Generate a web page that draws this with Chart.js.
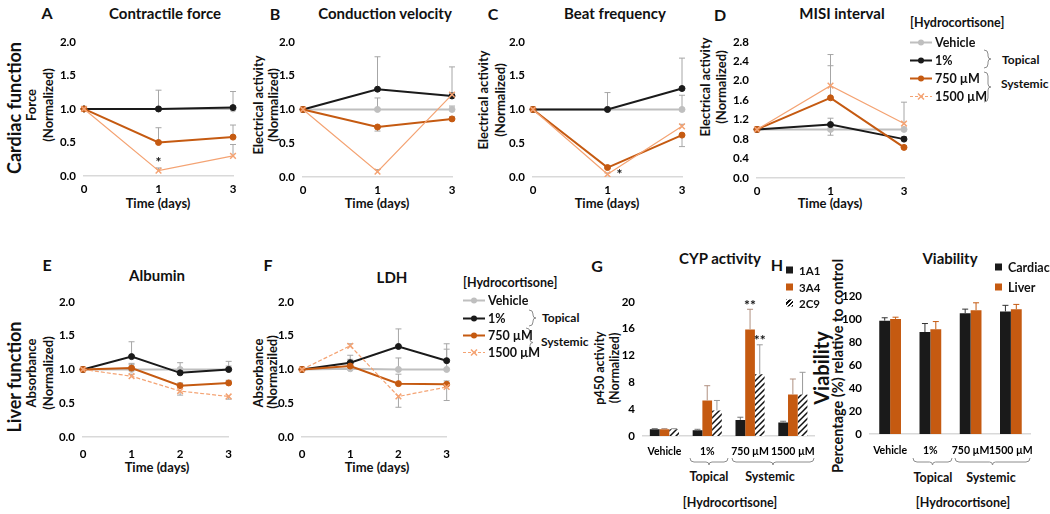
<!DOCTYPE html>
<html>
<head>
<meta charset="utf-8">
<script src="https://cdn.jsdelivr.net/npm/chart.js@4.4.0/dist/chart.umd.min.js"></script>
<style>
  body { margin: 0; background: #fff; }
  #fig { position: relative; width: 1050px; height: 514px; overflow: hidden;
         font-family: Lato, "Open Sans", sans-serif; font-weight: 700; color: #111; }
  #fig canvas { position: absolute; }
  .t { position: absolute; white-space: nowrap; line-height: 1; transform: translate(-50%, -50%); }
  .r { transform: translate(-50%, -50%) rotate(-90deg); }
  .l { transform: translate(0, -50%); }
  .pl { font-size: 16px; }
  .ttl { font-size: 15px; }
  .ax { font-size: 13px; }
  .big { font-size: 18px; }
  .lg { font-size: 12.5px; }
  .side { font-size: 12px; }
  .row { position: absolute; display: flex; align-items: center; gap: 3px; font-size: 12.5px; transform: translate(0, -50%); white-space: nowrap; }
  .sq { display: inline-block; width: 7px; height: 7px; margin-right: 3px; }
  #deco { position: absolute; left: 0; top: 0; }
</style>
</head>
<body>
<div id="fig">
  <!-- top row -->
  <div class="t pl" style="left:47px;top:13px">A</div>
  <div class="t ttl" style="left:165px;top:13px">Contractile force</div>
  <div class="t r big" style="left:14px;top:108px">Cardiac function</div>
  <div class="t r ax" style="left:31px;top:105px">Force</div>
  <div class="t r ax" style="left:48px;top:105px">(Normalized)</div>
  <div class="t ax" style="left:158px;top:203px">Time (days)</div>

  <div class="t pl" style="left:275px;top:14px">B</div>
  <div class="t ttl" style="left:385px;top:13px">Conduction velocity</div>
  <div class="t r ax" style="left:258px;top:105px">Electrical activity</div>
  <div class="t r ax" style="left:273px;top:105px">(Normalized)</div>
  <div class="t ax" style="left:377px;top:203px">Time (days)</div>

  <div class="t pl" style="left:493px;top:14px">C</div>
  <div class="t ttl" style="left:615px;top:13px">Beat frequency</div>
  <div class="t r ax" style="left:483px;top:100px">Electrical activity</div>
  <div class="t r ax" style="left:500px;top:100px">(Normalized)</div>
  <div class="t ax" style="left:607px;top:203px">Time (days)</div>

  <div class="t pl" style="left:720px;top:15px">D</div>
  <div class="t ttl" style="left:842px;top:13px">MISI interval</div>
  <div class="t r ax" style="left:705px;top:87px">Electrical activity</div>
  <div class="t r ax" style="left:721px;top:87px">(Normalized)</div>
  <div class="t ax" style="left:830px;top:203px">Time (days)</div>

  <div class="t l lg" style="left:910px;top:23px">[Hydrocortisone]</div>
  <div class="t l side" style="left:1002px;top:60px">Topical</div>
  <div class="t l side" style="left:1001px;top:84px">Systemic</div>

  <!-- bottom row -->
  <div class="t pl" style="left:47px;top:265px">E</div>
  <div class="t ttl" style="left:157px;top:275px">Albumin</div>
  <div class="t r big" style="left:14px;top:377px">Liver function</div>
  <div class="t r ax" style="left:31px;top:373px">Absorbance</div>
  <div class="t r ax" style="left:48px;top:373px">(Normalized)</div>
  <div class="t ax" style="left:157px;top:467px">Time (days)</div>

  <div class="t pl" style="left:268px;top:265px">F</div>
  <div class="t ttl" style="left:392px;top:277px">LDH</div>
  <div class="t r ax" style="left:258px;top:373px">Absorbance</div>
  <div class="t r ax" style="left:272px;top:372px">(Normaziled)</div>
  <div class="t ax" style="left:377px;top:467px">Time (days)</div>

  <div class="t l lg" style="left:463px;top:283px">[Hydrocortisone]</div>
  <div class="t l side" style="left:542px;top:318px">Topical</div>
  <div class="t l side" style="left:541px;top:342px">Systemic</div>

  <div class="t pl" style="left:597px;top:266px">G</div>
  <div class="t ttl" style="left:720px;top:258px">CYP activity</div>
  <div class="t r" style="left:600px;top:368px;font-size:12.5px">p450 activity</div>
  <div class="t r" style="left:615px;top:368px;font-size:12.5px">(Normalized)</div>
  <div class="t lg" style="left:709px;top:477px">Topical</div>
  <div class="t lg" style="left:770px;top:477px">Systemic</div>
  <div class="t lg" style="left:730px;top:503px">[Hydrocortisone]</div>

  <div class="t pl" style="left:777px;top:265px">H</div>
  <div class="t ttl" style="left:950px;top:258px">Viability</div>
  <div class="t r" style="left:821px;top:368px;font-size:20px">Viability</div>
  <div class="t r" style="left:838px;top:366px;font-size:14.5px">Percentage (%) relative to control</div>
  <div class="t lg" style="left:933px;top:478px">Topical</div>
  <div class="t lg" style="left:991px;top:478px">Systemic</div>
  <div class="t lg" style="left:963px;top:503px">[Hydrocortisone]</div>

  <svg id="deco" width="1050" height="514"></svg>
</div>

<script>
// ---- data ----
const SERIES = ["Vehicle", "1%", "750 µM", "1500 µM"];
const daysTop = ["0", "1", "3"];
const daysBottom = ["0", "1", "2", "3"];

// rows: Vehicle, 1%, 750 µM, 1500 µM  (err > 0 drawn up, < 0 drawn down)
const forceMean = [[1, 1, 1], [1, 1.0, 1.02], [1, 0.50, 0.58], [1, 0.08, 0.30]];
const forceErr  = [[0, 0, 0], [0, 0.28, 0.24], [0, 0.22, 0.18], [0, 0.04, 0.17]];

const condMean = [[1, 1, 1], [1, 1.30, 1.20], [1, 0.74, 0.86], [1, 0.08, 1.22]];
const condErr  = [[0, 0.17, 0.05], [0, 0.48, 0.43], [0, -0.06, 0.03], [0, 0.03, 0.03]];

const beatMean = [[1, 1, 1], [1, 1.0, 1.31], [1, 0.14, 0.62], [1, 0.04, 0.75]];
const beatErr  = [[0, 0, 0.21], [0, 0.25, 0.45], [0, 0.03, -0.17], [0, 0.02, 0.03]];

const misiMean = [[1, 1, 1], [1, 1.10, 0.80], [1, 1.65, 0.63], [1, 1.90, 1.12]];
const misiErr  = [[0, -0.12, 0], [0, 0.13, 0.05], [0, 0.66, 0.03], [0, 0.64, 0.44]];

const albMean = [[1, 1, 1, 1], [1, 1.19, 0.95, 1.0], [1, 1.02, 0.76, 0.80], [1, 0.90, 0.68, 0.60]];
const albErr  = [[0, 0.09, 0.10, 0.12], [0, 0.22, 0.05, 0.05], [0, 0.05, 0.04, 0.04], [0, 0.03, -0.06, -0.04]];

const ldhMean = [[1, 1.01, 1, 1], [1, 1.10, 1.34, 1.13], [1, 1.05, 0.79, 0.78], [1, 1.35, 0.60, 0.74]];
const ldhErr  = [[0, 0.20, 0.17, 0.30], [0, 0.05, 0.26, 0.25], [0, 0.05, 0.14, 0.05], [0, 0.03, -0.16, -0.20]];

const doseLabels = ["Vehicle", "1%", "750 µM", "1500 µM"];
const cyp1A1 = [1.0, 0.85, 2.4, 2.0];
const cyp3A4 = [1.0, 5.3, 15.9, 6.2];
const cyp2C9 = [1.0, 3.8, 9.2, 6.2];
const cyp1A1Err = [0.1, 0.15, 0.4, 0.2];
const cyp3A4Err = [0.1, 2.2, 3.0, 2.3];
const cyp2C9Err = [0.1, 1.5, 4.4, 3.3];

const viaCardiac = [98.5, 88.6, 105, 106.5];
const viaLiver   = [100, 91, 107.6, 108.4];
const viaCardiacErr = [2.5, 7.4, 3.5, 5.3];
const viaLiverErr   = [1.5, 6.7, 6.4, 4.2];

// ---- style ----
const GREY = "#bfbfbf", BLACK = "#1a1a1a", ORANGE = "#c55a11", LIGHT = "#f4a373";
const COLORS = [GREY, BLACK, ORANGE, LIGHT];
const TICK_FONT = { family: "Lato", size: 11.5, weight: "bold" };
const BAR_TICK_FONT = { family: "Lato", size: 10.5, weight: "bold" };
const fig = document.getElementById("fig");

const errorPlugin = {
  id: "errs",
  beforeDatasetsDraw(chart) { if (chart.config.type === "line") drawErrors(chart); },
  afterDatasetsDraw(chart) { if (chart.config.type === "bar") drawErrors(chart); },
};
function drawErrors(chart) {
  const ctx = chart.ctx, y = chart.scales.y;
  chart.data.datasets.forEach((ds, di) => {
    if (!ds.err) return;
    const meta = chart.getDatasetMeta(di);
    ctx.save();
    ctx.strokeStyle = ds.errColor || "#a6a6a6";
    ctx.lineWidth = 1;
    ds.err.forEach((e, i) => {
      const p = meta.data[i];
      if (!e || !p) return;
      const y0 = y.getPixelForValue(ds.data[i]), y1 = y.getPixelForValue(ds.data[i] + e);
      ctx.beginPath();
      ctx.moveTo(p.x, y0); ctx.lineTo(p.x, y1);
      ctx.moveTo(p.x - 3, y1); ctx.lineTo(p.x + 3, y1);
      ctx.stroke();
    });
    ctx.restore();
  });
}

// significance marks, placed at a data value above a point
const starPlugin = {
  id: "stars",
  afterDatasetsDraw(chart) {
    const ctx = chart.ctx, y = chart.scales.y;
    chart.data.datasets.forEach((ds, di) => {
      (ds.stars || []).forEach((s) => {
        const p = chart.getDatasetMeta(di).data[s.i];
        ctx.save();
        ctx.fillStyle = "#111";
        ctx.font = "bold 14px Lato";
        ctx.textAlign = "center";
        ctx.textBaseline = "middle";
        ctx.fillText(s.text, p.x + (s.dx || 0), y.getPixelForValue(s.v));
        ctx.restore();
      });
    });
  },
};

function hatch() {
  const c = document.createElement("canvas");
  c.width = 6; c.height = 6;
  const g = c.getContext("2d");
  g.fillStyle = "#fff"; g.fillRect(0, 0, 6, 6);
  g.strokeStyle = "#111"; g.lineWidth = 1.5;
  g.beginPath();
  g.moveTo(0, 6); g.lineTo(6, 0);
  g.moveTo(-3, 3); g.lineTo(3, -3);
  g.moveTo(3, 9); g.lineTo(9, 3);
  g.stroke();
  return g.createPattern(c, "repeat");
}

function lineSets(means, errs, dashed) {
  return means.map((m, k) => ({
    label: SERIES[k], data: m, err: errs[k],
    borderColor: COLORS[k], backgroundColor: COLORS[k],
    pointBackgroundColor: COLORS[k], pointBorderColor: COLORS[k],
    borderWidth: k === 3 ? 1.2 : 2,
    borderDash: k === 3 && dashed ? [4, 2] : [],
    pointStyle: k === 3 ? "crossRot" : "circle",
    pointRadius: k === 3 ? 4 : 3, pointBorderWidth: k === 3 ? 1.5 : 1,
    order: 4 - k, tension: 0,
  }));
}

// box = [left, right, top, bottom] of the plot area
function makeChart(box, type, labels, datasets, yOpt, xPad, xFont) {
  const [L, R, T, B] = box;
  const YW = 40, PT = 8, PR = 10, XH = 26;
  const w = R + PR - (L - YW), h = B + XH - (T - PT);
  const cv = document.createElement("canvas");
  cv.width = w; cv.height = h;
  cv.style.left = (L - YW) + "px"; cv.style.top = (T - PT) + "px";
  cv.style.width = w + "px"; cv.style.height = h + "px";
  fig.insertBefore(cv, document.getElementById("deco"));
  return new Chart(cv, {
    type,
    data: { labels, datasets },
    options: {
      responsive: false, animation: false, devicePixelRatio: 1,
      layout: { padding: { top: PT, right: PR, left: 0, bottom: 0 } },
      plugins: { legend: { display: false }, tooltip: { enabled: false } },
      scales: {
        x: {
          offset: type === "bar",
          grid: { display: false, drawTicks: false },
          border: { color: "#d9d9d9", width: 1.5 },
          ticks: { color: "#000", font: xFont || TICK_FONT, padding: xPad, autoSkip: false, maxRotation: 0 },
          afterFit: (s) => { s.height = XH; },
        },
        y: {
          min: 0, max: yOpt.max,
          grid: { display: false, drawTicks: false },
          border: { display: false },
          ticks: { stepSize: yOpt.step, color: "#000", font: TICK_FONT, padding: 8, callback: yOpt.fmt },
          afterFit: (s) => { s.width = YW; },
        },
      },
    },
    plugins: [errorPlugin, starPlugin],
  });
}

const f1 = (v) => v.toFixed(1);
const f0 = (v) => String(Math.round(v));
const y2 = { max: 2, step: 0.5, fmt: f1 };

// A
const setsA = lineSets(forceMean, forceErr, false);
setsA[3].stars = [{ i: 1, v: 0.2, text: "*" }];
makeChart([84, 233, 35, 176], "line", daysTop, setsA, y2, 6);
// B
makeChart([303, 452, 35, 177], "line", daysTop, lineSets(condMean, condErr, false), y2, 6);
// C
const setsC = lineSets(beatMean, beatErr, false);
setsC[3].stars = [{ i: 1, v: 0.03, text: "*", dx: 12 }];
makeChart([533, 682, 35, 177], "line", daysTop, setsC, y2, 6);
// D
makeChart([757, 904, 35, 178], "line", daysTop, lineSets(misiMean, misiErr, false), { max: 2.8, step: 0.4, fmt: f1 }, 6);
// E
makeChart([83, 232, 295, 437], "line", daysBottom, lineSets(albMean, albErr, true), y2, 10);
// F
makeChart([302, 450, 295, 437], "line", daysBottom, lineSets(ldhMean, ldhErr, true), y2, 10);

// G
makeChart([643, 815, 295, 436], "bar", doseLabels, [
  { label: "1A1", data: cyp1A1, err: cyp1A1Err, errColor: "#777", backgroundColor: BLACK },
  { label: "3A4", data: cyp3A4, err: cyp3A4Err, errColor: "#b09080", backgroundColor: ORANGE,
    stars: [{ i: 2, v: 19.4, text: "**" }] },
  { label: "2C9", data: cyp2C9, err: cyp2C9Err, errColor: "#999", backgroundColor: hatch(),
    stars: [{ i: 2, v: 14.2, text: "**" }] },
].map((d) => Object.assign(d, { categoryPercentage: 0.68, barPercentage: 1 })),
{ max: 20, step: 4, fmt: f0 }, 9, BAR_TICK_FONT);

// H
makeChart([870, 1034, 289, 434], "bar", doseLabels, [
  { label: "Cardiac", data: viaCardiac, err: viaCardiacErr, errColor: "#333", backgroundColor: BLACK },
  { label: "Liver", data: viaLiver, err: viaLiverErr, errColor: ORANGE, backgroundColor: ORANGE },
].map((d) => Object.assign(d, { categoryPercentage: 0.54, barPercentage: 1 })),
{ max: 120, step: 20, fmt: f0 }, 10, BAR_TICK_FONT);

// ---- legends ----
function glyph(k, dashed) {
  const c = COLORS[k];
  const dash = k === 3 && dashed ? ' stroke-dasharray="3 2"' : "";
  const mark = k === 3
    ? `<path d="M8 2 L14 8 M14 2 L8 8" stroke="${c}" stroke-width="1.5"/>`
    : `<circle cx="11" cy="5" r="3" fill="${c}"/>`;
  return `<svg width="22" height="10"><line x1="0" y1="5" x2="22" y2="5" stroke="${c}" stroke-width="${k === 3 ? 1.2 : 2}"${dash}/>${mark}</svg>`;
}
function lineLegend(left, ys, dashed) {
  SERIES.forEach((s, k) => {
    const d = document.createElement("div");
    d.className = "row";
    d.style.left = left + "px"; d.style.top = ys[k] + "px";
    d.innerHTML = glyph(k, dashed) + "<span>" + s + "</span>";
    fig.appendChild(d);
  });
}
lineLegend(910, [42, 60, 78, 96], true);
lineLegend(463, [300, 318, 335, 352], true);

function barLegend(left, ys, items, size) {
  items.forEach((it, k) => {
    const d = document.createElement("div");
    d.className = "row";
    d.style.left = left + "px"; d.style.top = ys[k] + "px";
    d.style.fontSize = size + "px";
    d.innerHTML = `<span class="sq" style="background:${it[1]};${it[2] || ""}"></span><span>${it[0]}</span>`;
    fig.appendChild(d);
  });
}
barLegend(786, [270, 287, 303], [["1A1", BLACK], ["3A4", ORANGE],
  ["2C9", "#fff", "background-image:repeating-linear-gradient(-45deg,#111 0 1.5px,#fff 1.5px 3px)"]], 11.5);
barLegend(995, [267, 287], [["Cardiac", BLACK], ["Liver", ORANGE]], 12.5);

// ---- braces ----
const deco = document.getElementById("deco");
function path(d) {
  const p = document.createElementNS("http://www.w3.org/2000/svg", "path");
  p.setAttribute("d", d);
  p.setAttribute("fill", "none");
  p.setAttribute("stroke", "#8c8c8c");
  p.setAttribute("stroke-width", "1");
  deco.appendChild(p);
}
function vbrace(x, y1, y2) {
  const m = (y1 + y2) / 2;
  path(`M${x} ${y1} Q${x + 4} ${y1} ${x + 4} ${y1 + 4} L${x + 4} ${m - 3} Q${x + 4} ${m} ${x + 7} ${m} ` +
       `Q${x + 4} ${m} ${x + 4} ${m + 3} L${x + 4} ${y2 - 4} Q${x + 4} ${y2} ${x} ${y2}`);
}
function hbrace(x1, x2, y) {
  const m = (x1 + x2) / 2;
  path(`M${x1} ${y} Q${x1} ${y + 4} ${x1 + 4} ${y + 4} L${m - 3} ${y + 4} Q${m} ${y + 4} ${m} ${y + 7} ` +
       `Q${m} ${y + 4} ${m + 3} ${y + 4} L${x2 - 4} ${y + 4} Q${x2} ${y + 4} ${x2} ${y}`);
}
vbrace(984, 50, 68);
vbrace(984, 72, 102);
vbrace(529, 310, 326);
vbrace(526, 328, 357);
hbrace(690, 728, 458);
hbrace(732, 814, 458);
hbrace(913, 952, 458);
hbrace(955, 1030, 458);
</script>
</body>
</html>
